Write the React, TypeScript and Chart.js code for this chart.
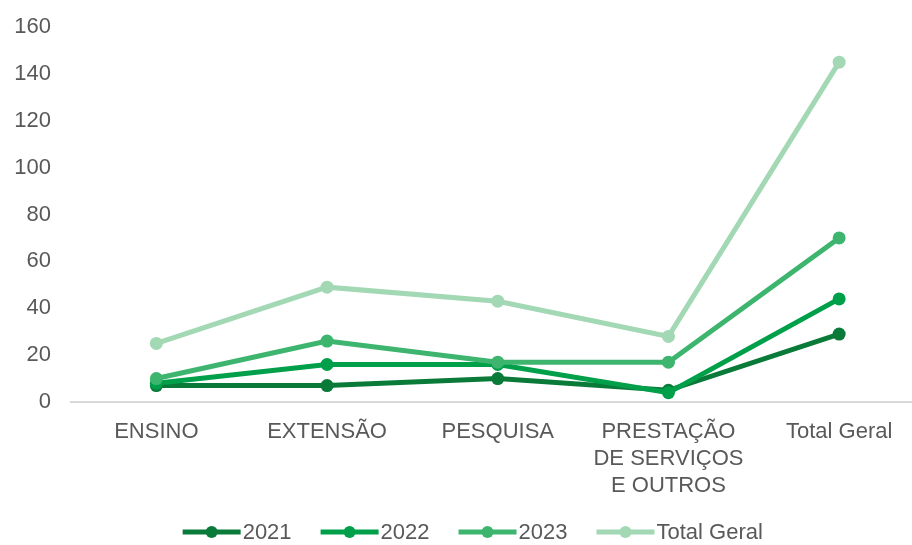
import React, { useEffect, useRef } from 'react';
import { Chart, registerables } from 'chart.js';

Chart.register(...registerables);

const categories: (string | string[])[] = [
  'ENSINO',
  'EXTENSÃO',
  'PESQUISA',
  ['PRESTAÇÃO', 'DE SERVIÇOS', 'E OUTROS'],
  'Total Geral',
];
const seriesNames = ['2021', '2022', '2023', 'Total Geral'];
const values2021 = [7, 7, 10, 5, 29];
const values2022 = [8, 16, 16, 4, 44];
const values2023 = [10, 26, 17, 17, 70];
const valuesTotal = [25, 49, 43, 28, 145];
const yMin = 0;
const yMax = 160;
const yStep = 20;
const seriesColors = ['#0A7A39', '#00A04B', '#3DB56F', '#A2D8B3'];

const FONT = '"Liberation Sans", Arial, sans-serif';
const TEXT_COLOR = '#595959';

const legendPlugin = {
  id: 'customLegend',
  afterDraw(chart: any) {
    const ctx: CanvasRenderingContext2D = chart.ctx;
    const area = chart.chartArea;
    ctx.save();
    ctx.font = `22px ${FONT}`;
    const markerW = 58;
    const gapText = 2;
    const gapItem = 29;
    const items = chart.data.datasets.map((ds: any) => ({
      label: ds.label as string,
      color: ds.borderColor as string,
      w: ctx.measureText(ds.label).width,
    }));
    const total =
      items.reduce((s: number, it: any) => s + markerW + gapText + it.w, 0) +
      gapItem * (items.length - 1);
    const cx = (area.left + area.right) / 2 - 25;
    const y = area.bottom + 130;
    let x = cx - total / 2;
    for (const it of items) {
      ctx.strokeStyle = it.color;
      ctx.lineWidth = 5;
      ctx.lineCap = 'butt';
      ctx.beginPath();
      ctx.moveTo(x, y);
      ctx.lineTo(x + markerW, y);
      ctx.stroke();
      ctx.fillStyle = it.color;
      ctx.beginPath();
      ctx.arc(x + markerW / 2, y, 6, 0, Math.PI * 2);
      ctx.fill();
      x += markerW + gapText;
      ctx.fillStyle = TEXT_COLOR;
      ctx.textBaseline = 'middle';
      ctx.textAlign = 'left';
      ctx.fillText(it.label, x, y + 1);
      x += it.w + gapItem;
    }
    ctx.restore();
  },
};

export default function App() {
  const canvasRef = useRef<HTMLCanvasElement | null>(null);

  useEffect(() => {
    const canvas = canvasRef.current;
    if (!canvas) return;
    const allValues = [values2021, values2022, values2023, valuesTotal];
    const chart = new Chart(canvas, {
      type: 'line',
      data: {
        labels: categories as any,
        datasets: allValues.map((vals, i) => ({
          label: seriesNames[i],
          data: vals,
          borderColor: seriesColors[i],
          backgroundColor: seriesColors[i],
          pointBackgroundColor: seriesColors[i],
          pointBorderColor: seriesColors[i],
          borderWidth: 5,
          pointRadius: 6.5,
          pointBorderWidth: 0,
          tension: 0,
          fill: false,
          order: allValues.length - 1 - i,
        })),
      },
      options: {
        responsive: false,
        animation: false,
        devicePixelRatio: 1,
        layout: { padding: { top: 27, right: 0, left: 0, bottom: 0 } },
        plugins: {
          legend: { display: false },
          tooltip: { enabled: false },
        },
        scales: {
          x: {
            offset: true,
            grid: { display: false, drawTicks: false },
            border: { display: true, color: '#D9D9D9', width: 2 },
            ticks: {
              color: TEXT_COLOR,
              font: { family: FONT, size: 22, lineHeight: 1.23 },
              padding: 16,
              maxRotation: 0,
              autoSkip: false,
            },
            afterFit(scale: any) {
              scale.height = 143;
              scale.paddingLeft = 0;
              scale.paddingRight = 0;
            },
          },
          y: {
            min: yMin,
            max: yMax,
            grid: { display: false, drawTicks: false },
            border: { display: false },
            ticks: {
              stepSize: yStep,
              color: TEXT_COLOR,
              font: { family: FONT, size: 22 },
              padding: 20,
            },
            afterFit(scale: any) {
              scale.width = 71;
              scale.paddingTop = 0;
              scale.paddingBottom = 0;
            },
          },
        },
      },
      plugins: [legendPlugin],
    });
    return () => chart.destroy();
  }, []);

  return (
    <div
      style={{
        position: 'fixed',
        left: 0,
        top: 0,
        width: 912,
        height: 545,
        overflow: 'hidden',
        background: '#FFFFFF',
      }}
    >
      <canvas ref={canvasRef} width={931} height={545} />
    </div>
  );
}
